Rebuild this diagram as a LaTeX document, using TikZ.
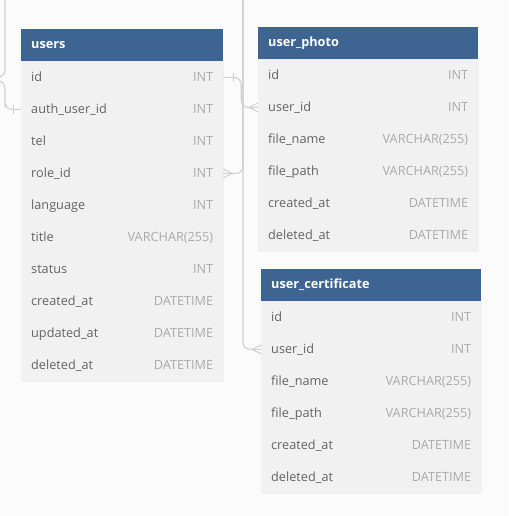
\documentclass[tikz,border=0pt]{standalone}
\usepackage{fontspec}
\setmainfont{Open Sans}
\usetikzlibrary{positioning,calc}

\definecolor{headblue}{RGB}{62,100,146}
\definecolor{rowgray}{RGB}{241,241,241}
\definecolor{canvas}{RGB}{251,251,251}
\definecolor{namegray}{RGB}{100,100,100}
\definecolor{typegray}{RGB}{170,170,170}
\definecolor{linegray}{RGB}{208,208,208}

% one table row: field name left, type right
\newcommand\fld[3][182pt]{\makebox[#1]{#2\hfill\textcolor{typegray}{#3}}}

\begin{document}
\begin{tikzpicture}[x=1pt, y=-1pt, font=\fontsize{12.7}{15}\selectfont,
    head/.style = {anchor=north west, fill=headblue, text=white, font=\fontsize{12.7}{15}\selectfont\bfseries,
                   minimum height=32pt, inner xsep=10pt, inner ysep=0pt, text width=182pt, align=left,
                   text height=11pt, text depth=3.5pt},
    row/.style = {fill=rowgray, draw=rowgray, line width=0.6pt, text=namegray, minimum height=32pt,
                  inner xsep=10pt, inner ysep=0pt, outer sep=0pt, text height=12.5pt, text depth=3.5pt},
    conn/.style = {draw=linegray, line width=1.1pt}]
        \fill[canvas] (0,0) rectangle (508,516);
        \useasboundingbox (0,0) rectangle (508,516);
        \clip (0,0) rectangle (508,516);

        % users
        \node[head] (uh) at (21,29) {users};
        \node[row] (u1) [below=0pt of uh] {\fld{id}{INT}};
        \node[row] (u2) [below=0pt of u1] {\fld{auth\_user\_id}{INT}};
        \node[row] (u3) [below=0pt of u2] {\fld{tel}{INT}};
        \node[row] (u4) [below=0pt of u3] {\fld{role\_id}{INT}};
        \node[row] (u5) [below=0pt of u4] {\fld{language}{INT}};
        \node[row] (u6) [below=0pt of u5] {\fld{title}{VARCHAR(255)}};
        \node[row] (u7) [below=0pt of u6] {\fld{status}{INT}};
        \node[row] (u8) [below=0pt of u7] {\fld{created\_at}{DATETIME}};
        \node[row] (u9) [below=0pt of u8] {\fld{updated\_at}{DATETIME}};
        \node[row] (u10) [below=0pt of u9] {\fld{deleted\_at}{DATETIME}};

        % user_photo
        \node[head, text width=200pt] (ph) at (258,27) {user\_photo};
        \node[row] (p1) [below=0pt of ph] {\fld[200pt]{id}{INT}};
        \node[row] (p2) [below=0pt of p1] {\fld[200pt]{user\_id}{INT}};
        \node[row] (p3) [below=0pt of p2] {\fld[200pt]{file\_name}{VARCHAR(255)}};
        \node[row] (p4) [below=0pt of p3] {\fld[200pt]{file\_path}{VARCHAR(255)}};
        \node[row] (p5) [below=0pt of p4] {\fld[200pt]{created\_at}{DATETIME}};
        \node[row] (p6) [below=0pt of p5] {\fld[200pt]{deleted\_at}{DATETIME}};

        % user_certificate
        \node[head, text width=200pt] (ch) at (261,269) {user\_certificate};
        \node[row] (c1) [below=0pt of ch] {\fld[200pt]{id}{INT}};
        \node[row] (c2) [below=0pt of c1] {\fld[200pt]{user\_id}{INT}};
        \node[row] (c3) [below=0pt of c2] {\fld[200pt]{file\_name}{VARCHAR(255)}};
        \node[row] (c4) [below=0pt of c3] {\fld[200pt]{file\_path}{VARCHAR(255)}};
        \node[row] (c5) [below=0pt of c4] {\fld[200pt]{created\_at}{DATETIME}};
        \node[row] (c6) [below=0pt of c5] {\fld[200pt]{deleted\_at}{DATETIME}};

        % connectors
        \coordinate (rtop) at (243,0);
        \coordinate (ltop) at (5,0);
        \coordinate (lout) at (-8,77);
        \coordinate (lin) at (-8,81);

        \draw[conn, rounded corners=7pt] (u1.east) -- ++(18,0) |- (p2.west);
        \draw[conn] ($(u1.east)+(10,-4.5)$) -- ($(u1.east)+(10,4.5)$);
        \draw[conn] ($(p2.west)+(-9,0)$) -- ($(p2.west)+(0,-4.5)$) ($(p2.west)+(-9,0)$) -- ($(p2.west)+(0,4.5)$);

        \draw[conn, rounded corners=7pt] (u4.east) -| (rtop);
        \draw[conn] ($(u4.east)+(9,0)$) -- ($(u4.east)+(0,-4.5)$) ($(u4.east)+(9,0)$) -- ($(u4.east)+(0,4.5)$);

        \draw[conn, rounded corners=7pt] (rtop) |- (c2.west);
        \draw[conn] ($(c2.west)+(-9,0)$) -- ($(c2.west)+(0,-4.5)$) ($(c2.west)+(-9,0)$) -- ($(c2.west)+(0,4.5)$);

        \draw[conn, rounded corners=7pt] (ltop) |- (lout);
        \draw[conn, rounded corners=7pt] (lin) -| (5,100) |- (u2.west);
        \draw[conn] ($(u2.west)+(-8,-4.5)$) -- ($(u2.west)+(-8,4.5)$);
    \end{tikzpicture}
\end{document}
